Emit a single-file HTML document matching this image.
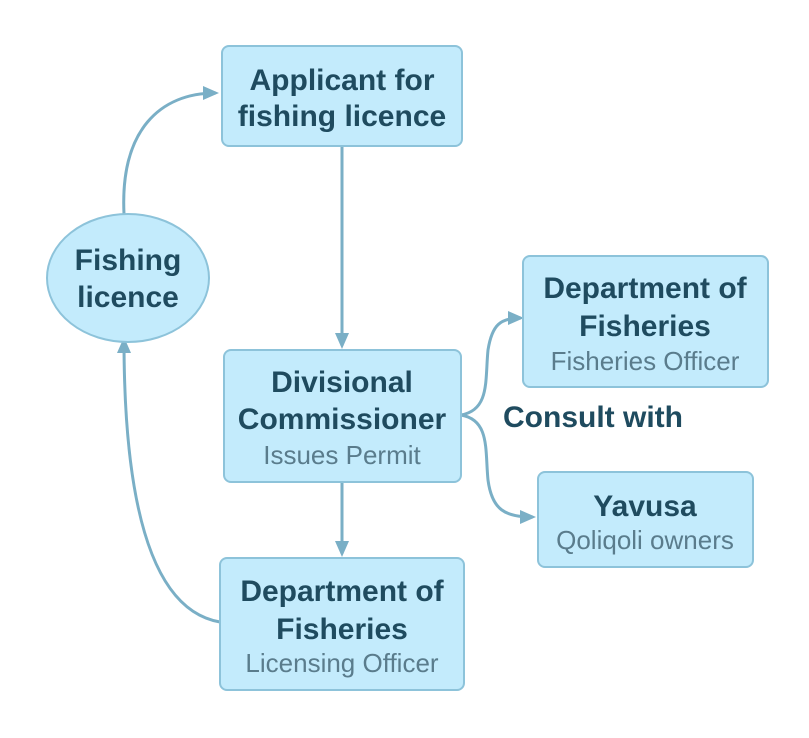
<!DOCTYPE html>
<html><head><style>
body{margin:0;background:#fff;}
svg text{font-family:"Liberation Sans",sans-serif;text-anchor:middle;}
.t{font-size:30px;font-weight:bold;fill:#1f4b5f;}
.s{font-size:26px;fill:#5a7c8c;}
.b{fill:#c3ebfc;stroke:#8dc3da;stroke-width:2;}
.l{fill:none;stroke:#7aafc6;stroke-width:3;}
</style></head><body>
<svg width="809" height="733" xmlns="http://www.w3.org/2000/svg">
<defs>
<marker id="m" markerWidth="16" markerHeight="14" refX="13" refY="7" orient="auto" markerUnits="userSpaceOnUse"><path d="M0,0L16,7L0,14z" fill="#7aafc6"/></marker></defs>
<path class="l" d="M124,214 C120,130 160,93 216,93" marker-end="url(#m)"/>
<path class="l" d="M220,622 C150,610 124,500 124,340" marker-end="url(#m)"/>
<path class="l" d="M342,146 L342,346" marker-end="url(#m)"/>
<path class="l" d="M342,482 L342,554" marker-end="url(#m)"/>
<path class="l" d="M461,415 C490,410 485,380 488,350 C492,325 500,318 521,318" marker-end="url(#m)"/>
<path class="l" d="M461,415 C490,420 485,450 488,480 C492,510 505,517 533,517" marker-end="url(#m)"/>
<rect class="b" x="222" y="46" width="240" height="100" rx="7"/>
<rect class="b" x="224" y="350" width="237" height="132" rx="7"/>
<rect class="b" x="220" y="558" width="244" height="132" rx="7"/>
<rect class="b" x="523" y="256" width="245" height="131" rx="7"/>
<rect class="b" x="538" y="472" width="215" height="95" rx="7"/>
<ellipse class="b" cx="128" cy="278" rx="81" ry="64"/>
<text class="t" x="342" y="90">Applicant for</text>
<text class="t" x="342" y="126">fishing licence</text>
<text class="t" x="342" y="392">Divisional</text>
<text class="t" x="342" y="429">Commissioner</text>
<text class="s" x="342" y="464">Issues Permit</text>
<text class="t" x="342" y="601">Department of</text>
<text class="t" x="342" y="639">Fisheries</text>
<text class="s" x="342" y="672">Licensing Officer</text>
<text class="t" x="645" y="298">Department of</text>
<text class="t" x="645" y="336">Fisheries</text>
<text class="s" x="645" y="370">Fisheries Officer</text>
<text class="t" x="645" y="516">Yavusa</text>
<text class="s" x="645" y="549">Qoliqoli owners</text>
<text class="t" x="128" y="270">Fishing</text>
<text class="t" x="128" y="307">licence</text>
<text class="t" x="593" y="427">Consult with</text>
</svg>
</body></html>
